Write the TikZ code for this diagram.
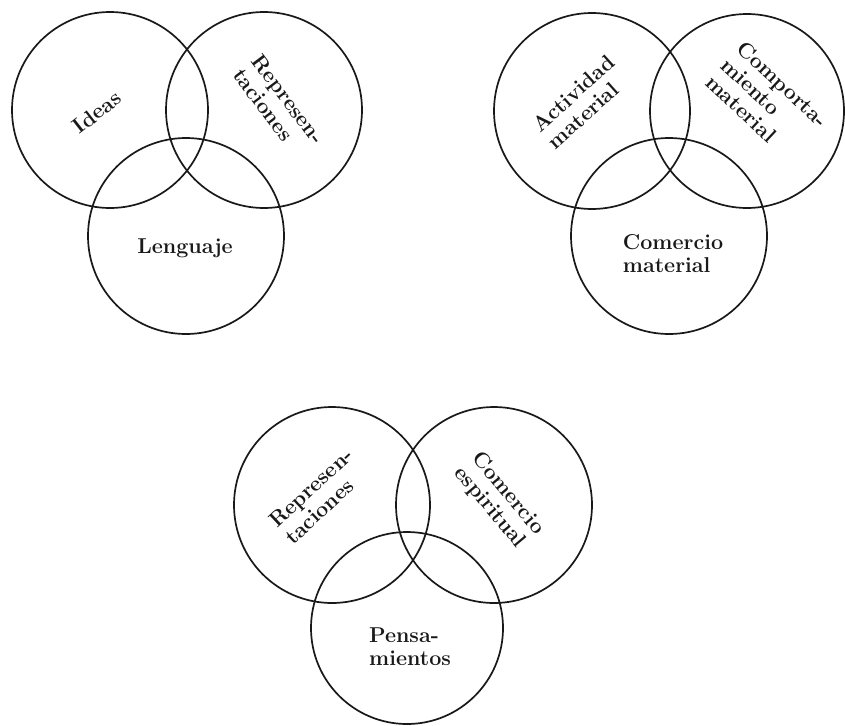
\documentclass[tikz,border=0pt]{standalone}
\begin{document}
\begin{tikzpicture}[x=1pt,y=-1pt,
  ring/.style={draw=black!90,line width=1.7pt},
  lbl/.style={font=\fontsize{21.5}{23}\selectfont\bfseries,align=left,inner sep=0pt,text=black!90}]
\useasboundingbox (0,0) rectangle (845,725);
% upper left group
\node[ring,circle,minimum size=196pt,inner sep=0pt] (ideas) at (110,110) {};
\node[ring,circle,minimum size=196pt,inner sep=0pt] (repA) at (264,110) {};
\node[ring,circle,minimum size=196pt,inner sep=0pt] (leng) at (186,236) {};
\node[lbl,rotate=38] (tIdeas) at (97,112) {Ideas};
\node[lbl,rotate=-53] (tRepA) at (279,106) {Represen-\\taciones};
\node[lbl] (tLeng) at (185,248) {Lenguaje};
% upper right group
\node[ring,circle,minimum size=196pt,inner sep=0pt] (activ) at (592,111) {};
\node[ring,circle,minimum size=194pt,inner sep=0pt] (compo) at (747,111) {};
\node[ring,circle,minimum size=196pt,inner sep=0pt] (comat) at (669,236) {};
\node[lbl,rotate=42] (tActiv) at (581,102) {Actividad\\material};
\node[lbl,rotate=-43] (tCompo) at (767,101) {Comporta-\\miento\\material};
\node[lbl] (tComat) at (673,254) {Comercio\\material};
% lower group
\node[ring,circle,minimum size=196pt,inner sep=0pt] (repB) at (332,505) {};
\node[ring,circle,minimum size=196pt,inner sep=0pt] (coesp) at (494,505) {};
\node[ring,circle,minimum size=192pt,inner sep=0pt] (pens) at (407,628) {};
\node[lbl,rotate=43] (tRepB) at (319,496) {Represen-\\taciones};
\node[lbl,rotate=-50] (tCoesp) at (499,501) {Comercio\\espiritual};
\node[lbl] (tPens) at (410,647) {Pensa-\\mientos};
\end{tikzpicture}
\end{document}
